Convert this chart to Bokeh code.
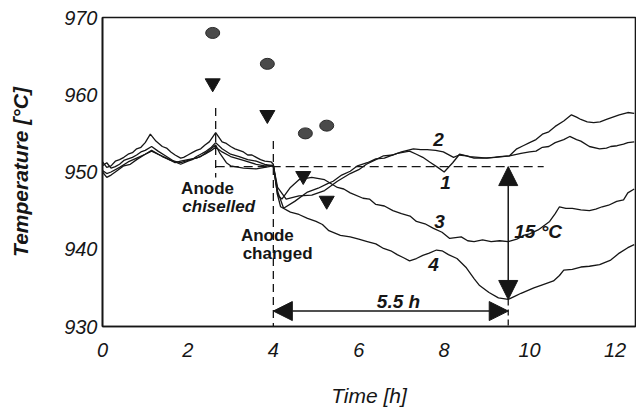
from bokeh.plotting import figure
from bokeh.models import Arrow, NormalHead, FixedTicker
from bokeh.core.properties import value
from bokeh.embed import file_html
from bokeh.resources import INLINE

# ---------------- data ----------------
t1 = [0, 0.1, 0.2, 0.3, 0.4, 0.5, 0.6, 0.7, 0.8, 0.9, 1.0, 1.12, 1.25, 1.4, 1.5, 1.6, 1.7, 1.83, 1.9, 2.0, 2.1,
      2.2, 2.3, 2.4, 2.5, 2.55, 2.65, 2.8, 2.9, 3.0, 3.1, 3.2, 3.3, 3.4, 3.5, 3.6, 3.7, 3.8, 3.95, 4.0, 4.1, 4.24,
      4.5, 4.8, 5.05, 5.27, 5.4, 5.6, 5.8, 5.97, 6.2, 6.4, 6.6, 6.74, 6.9, 7.0, 7.19, 7.35, 7.5, 7.66, 7.85, 8.0,
      8.2, 8.36, 8.6, 8.8, 9.0, 9.15, 9.3, 9.53, 9.7, 9.85, 10.0, 10.15, 10.3, 10.45, 10.6, 10.8, 10.98, 11.1, 11.2,
      11.35, 11.5, 11.65, 11.8, 11.95, 12.1, 12.3, 12.45]
T1 = [951.3, 950.6, 950.8, 951.4, 951.6, 951.9, 952.3, 952.5, 953.0, 953.2, 953.8, 954.9, 954.0, 953.3, 953.1, 952.6,
      952.2, 951.8, 951.9, 952.2, 952.5, 952.8, 953.0, 953.5, 953.9, 954.3, 955.1, 953.9, 953.7, 953.3, 953.0, 952.8,
      952.6, 952.2, 952.2, 951.9, 951.6, 951.4, 951.3, 951.0, 947.5, 945.3, 946.2, 947.4, 947.9, 948.5, 948.8, 949.6,
      950.1, 950.8, 951.2, 951.7, 951.8, 952.1, 952.4, 952.5, 952.7, 952.3, 951.9, 951.3, 950.6, 950.0, 951.2, 952.3,
      952.0, 951.9, 951.8, 951.9, 952.0, 952.1, 953.0, 953.4, 953.8, 954.2, 954.9, 955.2, 955.9, 956.6, 957.4, 957.1,
      956.8, 956.5, 956.4, 956.5, 956.8, 957.1, 957.4, 957.7, 957.6]

t2 = [0, 0.1, 0.2, 0.3, 0.4, 0.5, 0.6, 0.7, 0.8, 0.9, 1.0, 1.15, 1.3, 1.5, 1.7, 1.83, 2.0, 2.1, 2.2, 2.3, 2.4, 2.55,
      2.65, 2.8, 3.0, 3.2, 3.4, 3.6, 3.8, 4.0, 4.1, 4.3, 4.6, 4.9, 5.2, 5.5, 5.8, 6.0, 6.18, 6.4, 6.58, 6.8, 7.0,
      7.28, 7.45, 7.6, 7.8, 7.98, 8.22, 8.35, 8.52, 8.7, 8.92, 9.2, 9.53, 9.8, 10.0, 10.15, 10.3, 10.45, 10.6, 10.8,
      10.94, 11.1, 11.2, 11.4, 11.64, 11.8, 11.9, 12.05, 12.2, 12.3, 12.45]
T2 = [950.8, 951.2, 950.5, 950.7, 951.0, 951.5, 951.7, 951.9, 952.2, 952.6, 952.8, 953.3, 952.7, 952.0, 951.3, 951.0,
      951.4, 951.6, 952.0, 952.3, 952.6, 953.2, 953.8, 953.0, 952.3, 952.0, 951.6, 951.4, 951.0, 950.8, 948.0, 946.5,
      946.9, 947.0, 947.6, 948.8, 949.8, 950.3, 951.0, 951.6, 952.1, 952.2, 952.6, 953.0, 952.9, 952.9, 952.8, 952.6,
      951.9, 952.2, 952.1, 951.8, 951.8, 951.9, 952.1, 952.4, 952.6, 952.7, 953.2, 953.3, 953.8, 954.2, 954.6, 954.2,
      954.0, 953.3, 953.0, 953.1, 953.3, 953.4, 953.6, 953.8, 953.9]

t3 = [0, 0.1, 0.2, 0.4, 0.6, 0.8, 1.0, 1.15, 1.3, 1.5, 1.7, 1.83, 2.0, 2.2, 2.4, 2.55, 2.65, 2.8, 3.0, 3.3, 3.6,
      3.8, 4.0, 4.1, 4.2, 4.4, 4.6, 4.9, 5.2, 5.5, 5.65, 5.8, 6.1, 6.25, 6.4, 6.6, 6.8, 7.0, 7.2, 7.35, 7.55, 7.75,
      7.95, 8.13, 8.4, 8.55, 8.7, 8.9, 9.1, 9.3, 9.5, 9.7, 9.86, 10.0, 10.2, 10.47, 10.6, 10.7, 10.85, 11.0, 11.2,
      11.4, 11.55, 11.7, 11.85, 12.04, 12.2, 12.3, 12.45]
T3 = [950.2, 949.8, 950.0, 950.6, 951.3, 951.8, 952.3, 952.7, 952.3, 951.8, 951.2, 951.4, 951.6, 951.8, 952.3, 952.8,
      953.2, 952.6, 952.0, 951.5, 951.0, 950.8, 950.9, 947.0, 946.5, 948.0, 949.0, 949.3, 949.0, 948.0, 947.8, 947.3,
      946.6, 946.5, 945.8, 945.6, 945.0, 944.6, 944.3, 943.6, 943.3, 942.7, 942.2, 941.4, 941.6, 941.1, 941.0, 941.2,
      941.0, 941.1, 941.0, 941.3, 941.8, 942.0, 942.5, 943.6, 944.6, 945.5, 945.3, 945.3, 945.1, 945.0, 945.2, 945.5,
      945.7, 946.2, 946.4, 947.3, 947.8]

t4 = [0, 0.1, 0.2, 0.3, 0.5, 0.65, 0.8, 1.0, 1.15, 1.4, 1.6, 1.83, 2.0, 2.3, 2.5, 2.65, 2.75, 2.9, 3.0, 3.3, 3.6,
      3.8, 4.0, 4.1, 4.17, 4.4, 4.6, 4.8, 5.0, 5.15, 5.3, 5.57, 5.8, 6.0, 6.2, 6.4, 6.58, 6.75, 6.9, 7.05, 7.19,
      7.35, 7.5, 7.65, 7.82, 7.95, 8.1, 8.3, 8.52, 8.7, 8.83, 9.05, 9.27, 9.5, 9.65, 9.8, 10.1, 10.3, 10.56, 10.7,
      10.8, 11.0, 11.2, 11.4, 11.64, 11.9, 12.1, 12.3, 12.45]
T4 = [950.0, 949.3, 949.6, 950.0, 950.8, 951.0, 951.6, 952.3, 952.8, 952.0, 951.5, 951.2, 951.5, 952.0, 952.8, 953.5,
      952.4, 951.2, 950.8, 950.5, 950.4, 950.6, 950.8, 947.0, 945.5, 944.8, 944.5, 944.0, 943.6, 943.2, 942.4, 941.8,
      941.6, 941.3, 941.0, 940.7, 940.1, 939.8, 939.3, 938.9, 938.5, 938.8, 939.2, 939.5, 939.9, 939.8, 939.3, 938.8,
      937.6, 936.2, 935.3, 934.4, 933.7, 933.5, 933.9, 934.3, 935.0, 935.4, 935.9, 936.6, 937.3, 937.4, 937.7, 937.8,
      938.0, 938.6, 939.5, 940.2, 940.6]

circle_t = [2.58, 3.86, 4.75, 5.25]
circle_T = [968.0, 964.0, 955.0, 956.0]
tri_t = [2.58, 3.86, 4.7, 5.25]
tri_T = [961.5, 957.4, 949.5, 946.3]

x_ticks = [0, 2, 4, 6, 8, 10, 12]
y_ticks = [930, 940, 950, 960, 970]

t_chisel = 2.65
t_change = 4.0
t_min = 9.5
T_base = 950.7
T_min = 933.5
T_span_arrow = 932.0

curve_labels = ["1", "2", "3", "4"]
curve_label_t = [8.03, 7.87, 7.89, 7.75]
curve_label_T = [948.7, 954.2, 943.6, 938.0]

# ---------------- figure ----------------
FONT = "Liberation Sans"
INK = "#161616"

p = figure(width=636, height=409, x_range=(0, 12.48), y_range=(930, 970),
           output_backend="svg", toolbar_location=None,
           min_border_left=102, min_border_right=1, min_border_top=17, min_border_bottom=79)
p.background_fill_color = "white"
p.border_fill_color = "white"
p.grid.visible = False
p.outline_line_color = INK
p.outline_line_width = 1.6

for ax in (p.xaxis[0], p.yaxis[0]):
    ax.axis_line_color = INK
    ax.axis_line_width = 1.6
    ax.major_tick_line_color = None
    ax.minor_tick_line_color = None
    ax.major_tick_out = 0
    ax.major_tick_in = 0
    ax.major_label_text_font = FONT
    ax.major_label_text_font_style = "italic"
    ax.major_label_text_font_size = "20px"
    ax.major_label_text_color = INK
    ax.axis_label_text_font = FONT
    ax.axis_label_text_color = INK

p.xaxis.ticker = FixedTicker(ticks=x_ticks)
p.yaxis.ticker = FixedTicker(ticks=y_ticks)
p.xaxis.major_label_standoff = 16
p.yaxis.major_label_standoff = 5
p.xaxis.axis_label = "Time [h]"
p.xaxis.axis_label_text_font_style = "italic"
p.xaxis.axis_label_text_font_size = "21px"
p.xaxis.axis_label_standoff = 24
p.yaxis.axis_label = "Temperature [°C]"
p.yaxis.axis_label_text_font_style = "bold italic"
p.yaxis.axis_label_text_font_size = "21px"
p.yaxis.axis_label_standoff = 29

# curves
for tt, TT in ((t1, T1), (t2, T2), (t3, T3), (t4, T4)):
    p.line(tt, TT, line_color=INK, line_width=1.3)

# dashed guide lines
p.line([t_chisel, t_chisel], [958.3, 949.3], line_color=INK, line_width=1.3, line_dash="8 5")
p.line([t_chisel, 10.33], [T_base, T_base], line_color=INK, line_width=1.3, line_dash="9 5")
p.line([t_change, t_change], [954.0, 930], line_color=INK, line_width=1.3, line_dash="8 5")
p.line([t_min, t_min], [T_min, 930], line_color=INK, line_width=1.3, line_dash="6 4")

# arrows
p.add_layout(Arrow(x_start=t_min, y_start=T_base, x_end=t_min, y_end=T_min,
                   line_color=INK, line_width=1.5,
                   start=NormalHead(size=19, fill_color=INK, line_color=INK),
                   end=NormalHead(size=19, fill_color=INK, line_color=INK)))
p.add_layout(Arrow(x_start=t_change, y_start=T_span_arrow, x_end=t_min, y_end=T_span_arrow,
                   line_color=INK, line_width=1.5,
                   start=NormalHead(size=19, fill_color=INK, line_color=INK),
                   end=NormalHead(size=19, fill_color=INK, line_color=INK)))

# markers
p.ellipse(circle_t, circle_T, width=14, height=11, width_units="screen", height_units="screen",
          fill_color="#4a4a4a", line_color="#2a2a2a", line_width=1)
p.scatter(tri_t, tri_T, marker="inverted_triangle", size=15, fill_color=INK, line_color=INK)

# annotations text
bold = dict(text_font=value(FONT), text_color=INK, text_align="center", text_baseline="middle")
p.text([2.46], [947.8], text=["Anode"], text_font_size="17px", text_font_style="bold", **bold)
p.text([2.72], [945.5], text=["chiselled"], text_font_size="17px", text_font_style="bold italic", **bold)
p.text([3.86], [941.8], text=["Anode"], text_font_size="17px", text_font_style="bold", **bold)
p.text([4.1], [939.5], text=["changed"], text_font_size="17px", text_font_style="bold", **bold)
p.text(curve_label_t, curve_label_T, text=curve_labels, text_font_size="19px",
       text_font_style="bold italic", **bold)
p.text([6.93], [933.3], text=["5.5 h"], text_font_size="19px", text_font_style="bold italic", **bold)
p.text([10.2], [942.3], text=["15 °C"], text_font_size="19px", text_font_style="bold italic", **bold)

open("out.html", "w").write(file_html(p, INLINE))
